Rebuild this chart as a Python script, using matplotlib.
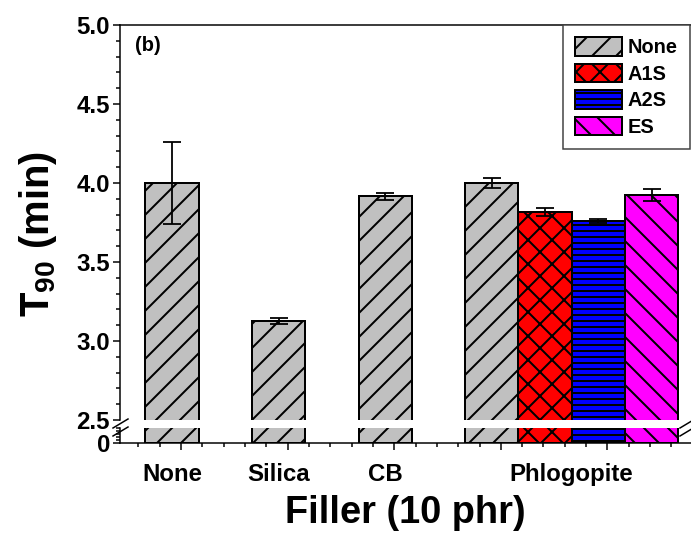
import numpy as np
import matplotlib
matplotlib.use('Agg')
import matplotlib.pyplot as plt
from matplotlib.lines import Line2D
from matplotlib.ticker import MultipleLocator, FixedLocator, NullFormatter

plt.rcParams['font.family'] = ['Liberation Sans', 'DejaVu Sans']
plt.rcParams['font.weight'] = 'bold'
plt.rcParams['mathtext.fontset'] = 'custom'
plt.rcParams['mathtext.bf'] = 'Liberation Sans:bold'
plt.rcParams['mathtext.rm'] = 'Liberation Sans:bold'
plt.rcParams['mathtext.default'] = 'bf'
plt.rcParams['hatch.linewidth'] = 2.0

# данные
categories = ['None', 'Silica', 'CB', 'Phlogopite']
series = ['None', 'None', 'None', 'None', 'A1S', 'A2S', 'ES']
bar_pos = [1, 2, 3, 4, 4.5, 5, 5.5]
t90 = [4.00, 3.125, 3.915, 4.00, 3.815, 3.76, 3.925]
t90_err = [0.26, 0.02, 0.02, 0.03, 0.025, 0.012, 0.04]
legend_names = ['None', 'A1S', 'A2S', 'ES']

colors = {'None': '#c0c0c0', 'A1S': '#ff0000', 'A2S': '#0000ff', 'ES': '#ff00ff'}
hatches = {'None': '/', 'A1S': 'x', 'A2S': '--', 'ES': '\\'}

W, H = 691, 550
fig = plt.figure(figsize=(W / 72, H / 72), dpi=72)

def frac(x0, y0, x1, y1):
    return [x0 / W, 1 - y1 / H, (x1 - x0) / W, (y1 - y0) / H]

ax_top = fig.add_axes(frac(120, 25, 691, 420))
ax_bot = fig.add_axes(frac(120, 428, 691, 443))

for ax in (ax_top, ax_bot):
    for x, h, s in zip(bar_pos, t90, series):
        ax.bar(x, h, width=0.5, color=colors[s], hatch=hatches[s],
               edgecolor='black', linewidth=2, zorder=2)
    ax.errorbar(bar_pos, t90, yerr=t90_err, fmt='none', ecolor='black',
                elinewidth=1.8, capsize=9, capthick=1.8, zorder=3)
    ax.set_xlim(0.512, 5.869)
    ax.spines['right'].set_visible(False)
    for sp in ax.spines.values():
        sp.set_linewidth(1.5)
    ax.tick_params(axis='both', which='major', length=7, width=1.5,
                   labelsize=24, direction='out', pad=3)
    ax.tick_params(axis='both', which='minor', length=4, width=1.5, direction='out')

# верхняя часть оси
ax_top.set_ylim(2.5, 5.0)
ax_top.yaxis.set_major_locator(MultipleLocator(0.5))
ax_top.yaxis.set_minor_locator(MultipleLocator(0.1))
ax_top.yaxis.set_major_formatter(plt.FormatStrFormatter('%.1f'))
ax_top.spines['bottom'].set_visible(False)
ax_top.tick_params(axis='x', which='both', bottom=False, labelbottom=False)

# нижняя часть оси
ax_bot.set_ylim(0, 0.5)
ax_bot.set_yticks([0])
ax_bot.yaxis.set_minor_locator(MultipleLocator(0.1))
ax_bot.spines['top'].set_visible(False)
ax_bot.xaxis.set_major_locator(FixedLocator(np.arange(1.085, 5.9, 1.0)))
ax_bot.xaxis.set_minor_locator(FixedLocator(np.arange(0.685, 5.9, 0.2)))
ax_bot.xaxis.set_major_formatter(NullFormatter())

# подписи категорий
cat_x = [bar_pos[0], bar_pos[1], bar_pos[2], np.mean(bar_pos[3:])]
for cx, name in zip(cat_x, categories):
    ax_bot.text(cx, -2.1, name, transform=ax_bot.get_xaxis_transform(),
                ha='center', va='center', fontsize=24, fontweight='bold')

# значки разрыва оси
for (x0, x1) in [(113, 128), (680, 695)]:
    for dy in (0, 8):
        fig.add_artist(Line2D([x0 / W, x1 / W], [1 - (428 + dy) / H, 1 - (419 + dy) / H],
                              color='black', lw=1.5, transform=fig.transFigure))

ax_top.text(0.026, 0.972, '(b)', transform=ax_top.transAxes, fontsize=20,
            fontweight='bold', va='top', ha='left')

handles = [plt.Rectangle((0, 0), 1, 1, facecolor=colors[n], hatch=hatches[n],
                         edgecolor='black', linewidth=2) for n in legend_names]
leg = ax_top.legend(handles, legend_names, loc='upper left',
                    bbox_to_anchor=((563 - 120) / 571, 1.0), fontsize=20,
                    handlelength=2.35, handleheight=1.05, labelspacing=0.32,
                    handletextpad=0.3, borderpad=0.6, borderaxespad=0,
                    fancybox=False, framealpha=1, edgecolor='#404040')
leg.get_frame().set_linewidth(1.5)

fig.text(38 / W, 1 - 234 / H, 'T$_{90}$ (min)', rotation=90, ha='center', va='center',
         fontsize=40, fontweight='bold')
fig.text(405 / W, 1 - 513 / H, 'Filler (10 phr)', ha='center', va='center',
         fontsize=38, fontweight='bold')

fig.savefig('out.png', dpi=72)
